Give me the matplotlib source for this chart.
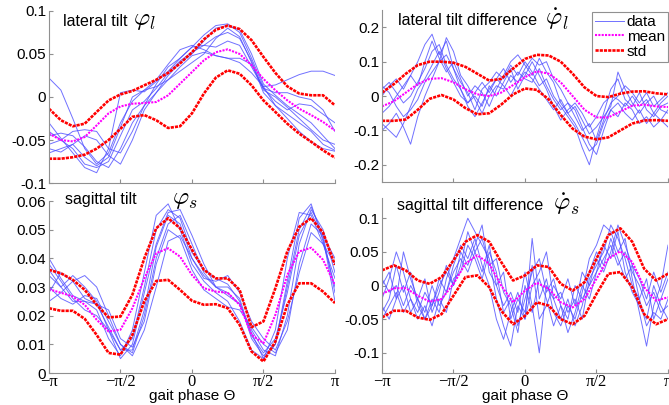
import numpy as np
import matplotlib
matplotlib.use("Agg")
import matplotlib.pyplot as plt
from matplotlib.lines import Line2D

plt.rcParams['font.family'] = ['Liberation Sans', 'DejaVu Sans']
plt.rcParams['mathtext.fontset'] = 'cm'

# phase grids (in units of pi)
phase25 = np.linspace(-1, 1, 25) * np.pi
phase41 = np.linspace(-1, 1, 41) * np.pi

tick_pos = [-np.pi, -np.pi/2, 0, np.pi/2, np.pi]
tick_txt = ['\u2212\u03c0', '\u2212\u03c0/2', '0', '\u03c0/2', '\u03c0']

## lateral tilt
lat_data = [
    [0.022, 0.008, -0.025, -0.060, -0.078, -0.065, -0.030, -0.005, 0.008, 0.020, 0.038, 0.055, 0.060, 0.055, 0.048, 0.045, 0.040, 0.028, 0.012, 0.014, 0.020, 0.026, 0.030, 0.030, 0.025],
    [-0.030, -0.048, -0.065, -0.082, -0.088, -0.060, 0.005, 0.008, 0.006, 0.018, 0.030, 0.045, 0.058, 0.072, 0.083, 0.085, 0.075, 0.045, 0.012, -0.010, -0.025, -0.040, -0.052, -0.060, -0.063],
    [-0.045, -0.042, -0.045, -0.058, -0.075, -0.082, -0.060, -0.030, -0.010, 0.005, 0.025, 0.040, 0.050, 0.065, 0.080, 0.083, 0.078, 0.050, 0.015, 0.002, -0.010, -0.020, -0.030, -0.045, -0.060],
    [-0.055, -0.050, -0.040, -0.038, -0.040, -0.060, -0.065, -0.040, -0.010, 0.015, 0.035, 0.045, 0.058, 0.060, 0.058, 0.065, 0.060, 0.035, 0.010, 0.005, 0.005, 0.000, -0.003, -0.015, -0.040],
    [-0.060, -0.064, -0.055, -0.045, -0.050, -0.068, -0.078, -0.050, -0.015, 0.005, 0.020, 0.030, 0.040, 0.050, 0.068, 0.080, 0.070, 0.040, 0.005, -0.010, -0.020, -0.030, -0.040, -0.055, -0.062],
    [-0.065, -0.060, -0.055, -0.070, -0.080, -0.070, -0.035, 0.000, 0.008, 0.012, 0.020, 0.035, 0.048, 0.052, 0.048, 0.045, 0.045, 0.038, 0.010, -0.005, -0.015, -0.008, -0.010, -0.020, -0.030],
    [-0.040, -0.050, -0.060, -0.078, -0.082, -0.075, -0.045, -0.015, -0.005, 0.010, 0.028, 0.042, 0.052, 0.060, 0.070, 0.075, 0.068, 0.042, 0.008, 0.000, -0.012, -0.025, -0.038, -0.050, -0.055],
]
lat_mean = [-0.0426, -0.050, -0.0516, -0.0465, -0.033, -0.019, -0.011, -0.0078, -0.007, -0.0058, 0.002, 0.0155, 0.029, 0.0426, 0.052, 0.0554, 0.050, 0.037, 0.021, 0.0078, -0.0039, -0.0136, -0.021, -0.029, -0.039]
lat_hi = [-0.0136, -0.027, -0.034, -0.031, -0.0174, -0.004, 0.003, 0.007, 0.0136, 0.020, 0.028, 0.039, 0.052, 0.067, 0.078, 0.083, 0.079, 0.066, 0.0465, 0.028, 0.0124, 0.004, 0.002, 0.002, -0.0097]
lat_lo = [-0.0717, -0.0717, -0.070, -0.067, -0.060, -0.050, -0.037, -0.023, -0.021, -0.027, -0.036, -0.034, -0.019, 0.004, 0.0225, 0.031, 0.027, 0.0136, -0.004, -0.0174, -0.031, -0.0426, -0.052, -0.062, -0.0705]

## lateral tilt difference
latd_data = [
    [0.00, 0.03, 0.05, 0.02, 0.06, 0.10, 0.15, 0.18, 0.12, 0.16, 0.08, 0.04, 0.01, -0.04, 0.02, 0.04, 0.07, 0.05, 0.09, 0.06, 0.10, 0.07, 0.03, 0.05, 0.0, -0.03, -0.06, -0.09, -0.15, -0.20, -0.12, -0.05, 0.02, 0.05, -0.01, -0.03, 0.01, -0.04, -0.06, -0.03, -0.02],
    [-0.10, -0.08, -0.05, -0.09, -0.14, -0.06, 0.00, 0.05, 0.10, 0.17, 0.13, 0.06, 0.03, -0.01, -0.05, 0.00, 0.03, 0.02, 0.06, 0.04, 0.08, 0.11, 0.09, 0.10, 0.05, 0.02, -0.02, -0.04, -0.09, -0.14, -0.17, -0.10, -0.04, -0.02, -0.05, -0.07, -0.04, -0.08, -0.05, -0.07, -0.09],
    [0.02, 0.04, 0.01, -0.02, 0.00, 0.04, 0.08, 0.13, 0.15, 0.09, 0.05, 0.02, -0.03, -0.06, -0.02, 0.02, 0.05, 0.08, 0.04, 0.07, 0.05, 0.04, 0.08, 0.03, -0.01, -0.04, -0.02, -0.06, -0.10, -0.08, -0.13, -0.07, -0.02, 0.00, 0.03, 0.01, -0.02, 0.01, -0.03, -0.01, 0.01],
    [-0.05, -0.03, 0.00, 0.03, 0.06, 0.03, 0.10, 0.16, 0.11, 0.07, 0.10, 0.05, 0.00, 0.03, 0.01, -0.03, 0.02, 0.06, 0.10, 0.12, 0.09, 0.06, 0.11, 0.07, 0.04, -0.02, -0.05, -0.03, -0.07, -0.11, -0.09, -0.06, -0.03, 0.07, 0.02, -0.02, -0.05, -0.02, 0.00, -0.04, -0.05],
    [-0.08, -0.10, -0.12, -0.08, -0.03, 0.02, 0.05, 0.09, 0.13, 0.08, 0.04, 0.00, -0.02, 0.01, 0.04, 0.01, 0.05, 0.03, 0.00, 0.04, 0.07, 0.05, 0.02, -0.01, -0.04, -0.01, -0.05, -0.08, -0.12, -0.16, -0.14, -0.08, -0.04, -0.06, -0.02, -0.04, -0.08, -0.06, -0.09, -0.07, -0.04],
    [0.03, 0.01, -0.03, -0.06, -0.04, -0.01, 0.04, 0.07, 0.10, 0.12, 0.08, 0.02, -0.02, 0.00, -0.03, 0.03, 0.00, 0.04, 0.08, 0.02, 0.06, 0.10, 0.06, 0.02, -0.03, -0.07, -0.04, -0.02, -0.05, -0.09, -0.06, -0.02, 0.00, -0.01, -0.03, 0.00, -0.03, -0.01, -0.05, -0.02, 0.00],
]
latd_mean = [-0.030, -0.015, 0.010, 0.035, 0.050, 0.052, 0.040, 0.020, 0.005, 0.000, 0.010, 0.032, 0.055, 0.072, 0.065, 0.040, 0.000, -0.040, -0.062, -0.062, -0.045, -0.028, -0.025, -0.030, -0.032]
latd_hi = [0.010, 0.035, 0.065, 0.090, 0.100, 0.100, 0.097, 0.085, 0.065, 0.045, 0.050, 0.080, 0.108, 0.120, 0.118, 0.100, 0.065, 0.025, 0.000, -0.003, 0.007, 0.013, 0.014, 0.008, 0.005]
latd_lo = [-0.072, -0.072, -0.068, -0.040, -0.008, 0.003, -0.010, -0.035, -0.053, -0.050, -0.025, 0.005, 0.022, 0.018, -0.010, -0.055, -0.095, -0.118, -0.126, -0.120, -0.100, -0.080, -0.071, -0.070, -0.072]

## sagittal tilt
sag_data = [
    [0.040, 0.033, 0.027, 0.025, 0.022, 0.012, 0.006, 0.015, 0.035, 0.055, 0.059, 0.050, 0.038, 0.032, 0.028, 0.025, 0.018, 0.008, 0.005, 0.015, 0.040, 0.056, 0.055, 0.045, 0.038],
    [0.034, 0.030, 0.034, 0.030, 0.025, 0.015, 0.008, 0.012, 0.030, 0.050, 0.057, 0.054, 0.042, 0.036, 0.033, 0.031, 0.025, 0.012, 0.006, 0.010, 0.030, 0.050, 0.058, 0.048, 0.040],
    [0.025, 0.028, 0.032, 0.034, 0.030, 0.020, 0.010, 0.007, 0.020, 0.040, 0.052, 0.055, 0.045, 0.035, 0.030, 0.027, 0.024, 0.015, 0.008, 0.006, 0.020, 0.045, 0.057, 0.050, 0.035],
    [0.030, 0.026, 0.024, 0.027, 0.026, 0.018, 0.010, 0.006, 0.015, 0.030, 0.046, 0.048, 0.040, 0.033, 0.032, 0.034, 0.028, 0.018, 0.012, 0.008, 0.018, 0.035, 0.049, 0.045, 0.033],
    [0.038, 0.032, 0.026, 0.022, 0.020, 0.015, 0.005, 0.010, 0.028, 0.045, 0.056, 0.057, 0.048, 0.038, 0.030, 0.028, 0.024, 0.014, 0.005, 0.010, 0.032, 0.054, 0.059, 0.046, 0.030],
    [0.028, 0.035, 0.032, 0.026, 0.024, 0.022, 0.012, 0.009, 0.018, 0.038, 0.050, 0.047, 0.036, 0.029, 0.026, 0.023, 0.022, 0.016, 0.010, 0.007, 0.015, 0.038, 0.052, 0.048, 0.028],
    [0.036, 0.030, 0.025, 0.025, 0.024, 0.016, 0.008, 0.008, 0.022, 0.044, 0.055, 0.052, 0.040, 0.034, 0.030, 0.030, 0.026, 0.013, 0.007, 0.012, 0.028, 0.048, 0.056, 0.047, 0.025],
]
sag_mean = [0.0292, 0.028, 0.0267, 0.0238, 0.0186, 0.0145, 0.0151, 0.0226, 0.033, 0.0418, 0.0435, 0.0406, 0.0342, 0.0296, 0.0284, 0.028, 0.0238, 0.0133, 0.0104, 0.0203, 0.0342, 0.0424, 0.0437, 0.0395, 0.0307]
sag_hi = [0.036, 0.0348, 0.0325, 0.029, 0.0238, 0.0194, 0.0197, 0.0273, 0.040, 0.0505, 0.054, 0.0505, 0.043, 0.036, 0.033, 0.033, 0.029, 0.016, 0.018, 0.0296, 0.0424, 0.051, 0.054, 0.049, 0.0377]
sag_lo = [0.0226, 0.0217, 0.0217, 0.0189, 0.0133, 0.007, 0.0064, 0.0133, 0.025, 0.0321, 0.0325, 0.029, 0.0252, 0.0238, 0.024, 0.0226, 0.0168, 0.0075, 0.004, 0.011, 0.0238, 0.0313, 0.0313, 0.0284, 0.0244]

## sagittal tilt difference
sagd_data = [
    [-0.04, -0.02, 0.03, -0.01, 0.02, -0.03, -0.05, -0.02, -0.04, 0.01, 0.04, 0.07, 0.10, 0.08, 0.06, 0.04, -0.02, -0.06, -0.09, -0.03, -0.05, 0.07, -0.02, 0.01, -0.04, -0.06, -0.03, -0.05, -0.01, 0.04, 0.06, 0.09, 0.08, 0.05, 0.07, 0.01, -0.04, -0.09, -0.03, 0.00, 0.06],
    [-0.02, 0.01, 0.05, 0.02, -0.02, -0.04, -0.01, -0.03, 0.00, 0.02, 0.00, 0.05, 0.03, 0.06, 0.09, 0.02, 0.00, -0.03, -0.01, -0.04, 0.02, -0.03, -0.10, 0.00, -0.02, -0.01, -0.04, -0.02, -0.05, 0.01, 0.03, 0.05, 0.09, 0.07, 0.04, 0.00, -0.02, -0.06, -0.04, -0.05, -0.02],
    [-0.05, -0.03, -0.01, -0.04, -0.02, -0.05, -0.03, -0.06, -0.02, -0.04, 0.01, 0.02, 0.06, 0.04, 0.01, 0.05, 0.02, -0.04, -0.02, -0.06, -0.02, 0.02, 0.04, -0.01, 0.01, -0.03, -0.07, -0.04, 0.00, -0.02, 0.02, 0.04, 0.06, 0.03, 0.05, 0.02, 0.00, -0.03, -0.01, -0.04, -0.03],
    [0.00, 0.02, -0.02, 0.05, 0.01, -0.02, -0.04, 0.00, -0.03, -0.01, 0.03, 0.06, 0.04, 0.07, 0.03, 0.00, -0.05, -0.08, -0.04, -0.01, -0.05, 0.00, 0.02, 0.05, -0.02, -0.05, -0.02, -0.06, -0.03, 0.02, 0.05, 0.03, 0.07, 0.04, 0.01, 0.03, -0.02, 0.01, -0.05, -0.02, 0.01],
    [-0.03, -0.05, -0.02, 0.00, -0.04, -0.02, -0.05, -0.03, 0.01, -0.01, 0.02, 0.04, 0.02, 0.05, 0.07, 0.03, 0.04, -0.01, -0.03, -0.07, 0.00, -0.04, 0.01, -0.02, -0.06, -0.03, -0.05, 0.00, -0.02, 0.00, 0.02, 0.06, 0.04, 0.08, 0.02, -0.01, -0.03, -0.05, 0.00, -0.03, -0.05],
    [0.01, -0.01, 0.00, -0.03, 0.00, -0.02, 0.01, -0.04, -0.01, 0.03, 0.00, 0.03, 0.08, 0.05, 0.02, 0.06, 0.00, 0.02, -0.05, -0.02, -0.04, 0.03, -0.05, -0.03, 0.00, -0.02, 0.01, -0.03, 0.02, 0.00, 0.04, 0.02, 0.05, 0.09, 0.06, 0.03, 0.01, -0.02, 0.02, -0.01, 0.02],
]
sagd_mean = [-0.0125, -0.004, -0.004, -0.015, -0.024, -0.020, 0.0025, 0.0325, 0.045, 0.0325, 0.000, -0.025, -0.0075, 0.004, -0.005, -0.025, -0.0325, -0.020, 0.010, 0.040, 0.051, 0.035, -0.0025, -0.0225, -0.0175]
sagd_hi = [0.0225, 0.030, 0.0225, 0.0075, 0.0025, 0.0125, 0.0375, 0.065, 0.075, 0.065, 0.035, 0.0075, 0.015, 0.030, 0.0275, 0.0025, -0.0075, 0.005, 0.040, 0.075, 0.085, 0.065, 0.025, 0.0075, 0.0175]
sagd_lo = [-0.0475, -0.0375, -0.0375, -0.0475, -0.051, -0.0425, -0.015, 0.0125, 0.015, -0.0025, -0.0375, -0.0575, -0.045, -0.025, -0.030, -0.050, -0.0575, -0.045, -0.0125, 0.0175, 0.020, -0.0025, -0.0425, -0.0575, -0.050]

panels = [
    # rect, x, data, mean, hi, lo, ylim, yticks, ytick labels, bottom row, xlabel y
    ([0.0732, 0.548, 0.4275, 0.425], phase25, lat_data, lat_mean, lat_hi, lat_lo, (-0.1, 0.1),
     [-0.1, -0.05, 0, 0.05, 0.1], ['-0.1', '-0.05', '0', '0.05', '0.1'], False, 0),
    ([0.571, 0.5506, 0.4275, 0.4244], phase41, latd_data, latd_mean, latd_hi, latd_lo, (-0.25, 0.25),
     [-0.2, -0.1, 0, 0.1, 0.2], ['-0.2', '-0.1', '0', '0.1', '0.2'], False, 0),
    ([0.0732, 0.079, 0.4275, 0.4247], phase25, sag_data, sag_mean, sag_hi, sag_lo, (0, 0.06),
     [0, 0.01, 0.02, 0.03, 0.04, 0.05, 0.06], ['0', '0.01', '0.02', '0.03', '0.04', '0.05', '0.06'], True, -0.136),
    ([0.571, 0.079, 0.4275, 0.432], phase41, sagd_data, sagd_mean, sagd_hi, sagd_lo, (-0.13, 0.13),
     [-0.1, -0.05, 0, 0.05, 0.1], ['-0.1', '-0.05', '0', '0.05', '0.1'], True, -0.134),
]

blue = (0.3, 0.3, 1.0)
mag_ls = (0, (1, 0.6))
red_ls = (0, (1.2, 0.4))

fig = plt.figure(figsize=(6.69, 4.05), dpi=100)
for rect, xs, data, mean, hi, lo, ylim, yt, ytl, bottom, xly in panels:
    ax = fig.add_axes(rect)
    for d in data:
        ax.plot(xs, d, color=blue, lw=0.7, alpha=0.8)
    ax.plot(phase25, mean, color=(1, 0, 1), lw=1.5, ls=mag_ls)
    ax.plot(phase25, hi, color='red', lw=1.9, ls=red_ls)
    ax.plot(phase25, lo, color='red', lw=1.9, ls=red_ls)
    ax.set_xlim(-np.pi, np.pi)
    ax.set_ylim(*ylim)
    ax.set_yticks(yt)
    ax.set_yticklabels(ytl, fontsize=11)
    ax.set_xticks(tick_pos)
    if bottom:
        ax.set_xticklabels(tick_txt, fontsize=12, fontfamily='Liberation Serif')
        ax.set_xlabel('gait phase \u0398', fontsize=11, va='center')
        ax.xaxis.set_label_coords(0.5, xly)
    else:
        ax.set_xticklabels([])
    for s in ['top', 'right']:
        ax.spines[s].set_visible(False)
    for s in ['left', 'bottom']:
        ax.spines[s].set_color('#909090')
        ax.spines[s].set_linewidth(0.8)
    ax.tick_params(direction='in', length=3, color='#909090', pad=2)
    ax.tick_params(axis='x', pad=0.5)

# panel titles
def ftxt(x, y, s, size):
    fig.text(x / 669, 1 - y / 405, s, fontsize=size, va='baseline')

ftxt(63, 26, 'lateral tilt', 11.5)
ftxt(133, 25, '$\\varphi_l$', 18)
ftxt(398, 25, 'lateral tilt difference', 11.5)
ftxt(545, 25, '$\\dot{\\varphi}_l$', 18)
ftxt(65, 204, 'sagittal tilt', 11.5)
ftxt(172, 204, '$\\varphi_s$', 18)
ftxt(397, 210, 'sagittal tilt difference', 11.5)
ftxt(553, 210, '$\\dot{\\varphi}_s$', 18)

# legend
handles = [Line2D([], [], color=blue, lw=0.7, alpha=0.8),
           Line2D([], [], color=(1, 0, 1), lw=1.5, ls=mag_ls),
           Line2D([], [], color='red', lw=1.9, ls=red_ls)]
leg = fig.legend(handles, ['data', 'mean', 'std'], loc='upper right',
                 bbox_to_anchor=(668 / 669, 1 - 12 / 405), borderaxespad=0,
                 fontsize=11, handlelength=1.9, handletextpad=0.2,
                 labelspacing=0.05, borderpad=0.2, fancybox=False, framealpha=1)
leg.get_frame().set_edgecolor('#909090')
leg.get_frame().set_linewidth(0.8)

fig.savefig('out.png', dpi=100)
